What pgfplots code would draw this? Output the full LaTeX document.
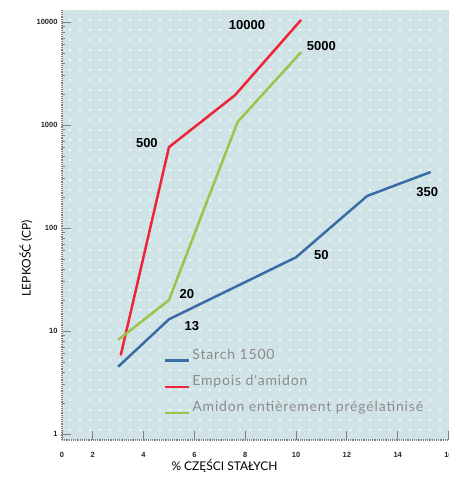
\documentclass[border=0pt]{standalone}
\usepackage{pgfplots}
\pgfplotsset{compat=1.18}
\usetikzlibrary{patterns.meta}
\usepackage{fontspec}
\setmainfont{Liberation Sans}
\newfontfamily\labfont{Lato}
\newfontfamily\legfont[LetterSpace=6]{Lato}

\definecolor{bgc}{HTML}{D0E4E7}
\definecolor{cblue}{HTML}{3A6CA6}
\definecolor{cred}{HTML}{EE2438}
\definecolor{cgreen}{HTML}{9EC24A}

\begin{document}
\begin{tikzpicture}
  \useasboundingbox (-62pt,-60pt) rectangle (387pt,440pt);
  \begin{axis}[
      scale only axis,
      width=387pt, height=430pt,
      ymode=log,
      xmin=0.79, xmax=16.02,
      ymin=0.875, ymax=13090,
      axis lines=left,
      axis line style={-, gray, densely dotted, line width=1.2pt},
      axis background/.style={fill=bgc,
        postaction={pattern={Dots[distance=10pt, radius=1.1pt]}, pattern color=white}},
      xtick={0.79,2,4,6,8,10,12,14,16},
      xticklabels={0,2,4,6,8,10,12,14,16},
      ytick={1,10,100,1000,10000},
      yticklabels={1,10,100,1000,10000},
      minor tick num=0,
      major tick length=9pt,
      tick style={gray, line width=0.8pt},
      tick align=inside,
      ticklabel style={font=\fontsize{7.5}{8}\selectfont\bfseries, text=black!85},
      xticklabel style={yshift=-9pt},
      yticklabel style={xshift=-1pt},
      xlabel={\labfont\fontsize{12}{14}\selectfont \% CZĘŚCI STAŁYCH},
      ylabel={\labfont\fontsize{12}{14}\selectfont LEPKOŚĆ (CP)},
      xlabel style={at={(rel axis cs:0.42,0)}, anchor=north, yshift=-16pt},
      % rotated node: yshift moves it sideways
      ylabel style={at={(rel axis cs:0,0.423)}, anchor=south, yshift=26pt},
      clip=false,
      legend style={at={(rel axis cs:0.255,0.222)}, anchor=north west,
        draw=none, fill=none, font=\legfont\fontsize{14}{16}\selectfont, text=black!45,
        row sep=10.5pt, cells={anchor=west}},
      legend image code/.code={\draw[#1, line width=2.5pt] (0,0) -- (16pt,0);
        \path (0,0) -- (24pt,0);},
    ]
    \addplot[cblue, line width=2.5pt] coordinates {
      (3.0,4.5) (5.0,13) (10.0,52) (12.8,205) (15.3,350)
    };
    \addlegendentry{Starch 1500}
    \addplot[cred, line width=2.5pt] coordinates {
      (3.1,5.8) (5.0,610) (7.6,1950) (10.2,10500)
    };
    \addlegendentry{Empois d'amidon}
    \addplot[cgreen, line width=2.5pt] coordinates {
      (3.0,8.2) (5.0,20) (7.7,1070) (10.2,5100)
    };
    \addlegendentry{Amidon entièrement prégélatinisé}

    \begin{scope}[every node/.style={font=\fontsize{13}{13}\selectfont\bfseries, text=black}]
      \node at (axis cs:8.07,9300) {10000};
      \node at (axis cs:11.0,5860) {5000};
      \node at (axis cs:4.13,670) {500};
      \node at (axis cs:15.16,223) {350};
      \node at (axis cs:11.0,55) {50};
      \node at (axis cs:5.7,23) {20};
      \node at (axis cs:5.9,11.2) {13};
    \end{scope}
  \end{axis}
\end{tikzpicture}
\end{document}
